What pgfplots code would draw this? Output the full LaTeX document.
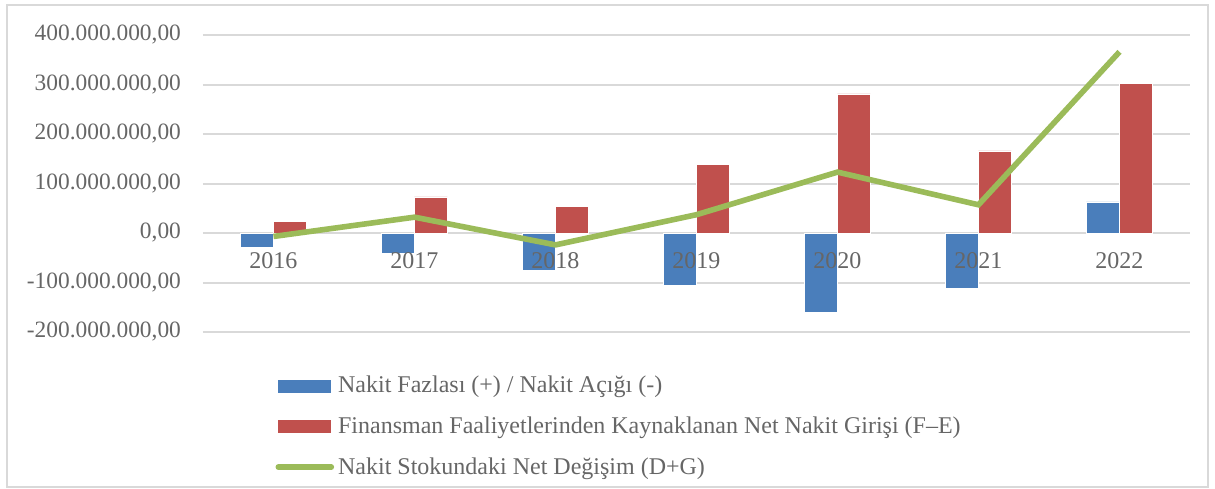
\documentclass[border=0pt]{standalone}
\usepackage{pgfplots}
\pgfplotsset{compat=1.18}
\usepackage{fontspec}
\setmainfont{Liberation Serif}
\definecolor{cblue}{HTML}{4A7EBB}
\definecolor{cred}{HTML}{C0504D}
\definecolor{cgreen}{HTML}{9BBB59}
\definecolor{cgrid}{HTML}{D9D9D9}
\definecolor{ctext}{HTML}{666666}
\begin{document}
\begin{tikzpicture}
\useasboundingbox (-101.5pt,-78pt) rectangle (506pt,166pt);
\draw[cgrid, line width=1pt] (-98pt,-77.5pt) rectangle (502.5pt,163.5pt);
\begin{axis}[
  at={(0pt,0pt)}, anchor=south west,
  scale only axis,
  width=493.5pt, height=148.5pt,
  xmin=-0.5, xmax=6.5,
  ymin=-200, ymax=400,
  axis line style={draw=none},
  xtick=\empty,
  ytick={-200,-100,0,100,200,300,400},
  yticklabels={{-200.000.000,00},{-100.000.000,00},{0,00},{100.000.000,00},{200.000.000,00},{300.000.000,00},{400.000.000,00}},
  major tick length=0pt,
  ymajorgrids,
  grid style={cgrid, line width=1pt},
  tick label style={text=ctext},
  yticklabel style={xshift=-7.5pt, font=\fontsize{11.7}{14}\selectfont},
  /pgf/number format/assume math mode=true,
  legend style={draw=none, fill=none, at={(0.067,-0.12)}, anchor=north west,
    font=\fontsize{12}{14}\selectfont, text=ctext, row sep=6.5pt,
    legend cell align=left},
  clip=false,
]
\addplot[ybar, bar width=16.5pt, bar shift=-8.25pt, fill=cblue, draw=white, line width=0.3pt,
  area legend,
  legend image code/.code={\fill[cblue] (0pt,-3pt) rectangle (26pt,3pt);}]
  coordinates {(0,-28) (1,-40) (2,-75) (3,-105) (4,-160) (5,-111) (6,63)};
\addlegendentry{Nakit Fazlası (+) / Nakit Açığı (-)}
\addplot[ybar, bar width=16.5pt, bar shift=8.25pt, fill=cred, draw=white, line width=0.3pt,
  area legend,
  legend image code/.code={\fill[cred] (0pt,-3pt) rectangle (26pt,3pt);}]
  coordinates {(0,24) (1,73) (2,53) (3,139) (4,281) (5,166) (6,303)};
\addlegendentry{Finansman Faaliyetlerinden Kaynaklanan Net Nakit Girişi (F–E)}
\addplot[sharp plot, cgreen, line width=2.8pt, mark=none,
  legend image code/.code={\draw[cgreen, line width=2.8pt, line cap=round] (0pt,0pt) -- (26.5pt,0pt);}]
  coordinates {(0,-7) (1,32) (2,-24) (3,37) (4,123) (5,57) (6,366)};
\addlegendentry{Nakit Stokundaki Net Değişim (D+G)}
\begin{scope}[every node/.style={anchor=north, yshift=-6pt, text=ctext, font=\fontsize{12}{14}\selectfont}]
\node at (axis cs:0,0) {2016};
\node at (axis cs:1,0) {2017};
\node at (axis cs:2,0) {2018};
\node at (axis cs:3,0) {2019};
\node at (axis cs:4,0) {2020};
\node at (axis cs:5,0) {2021};
\node at (axis cs:6,0) {2022};
\end{scope}
\end{axis}
\end{tikzpicture}
\end{document}
